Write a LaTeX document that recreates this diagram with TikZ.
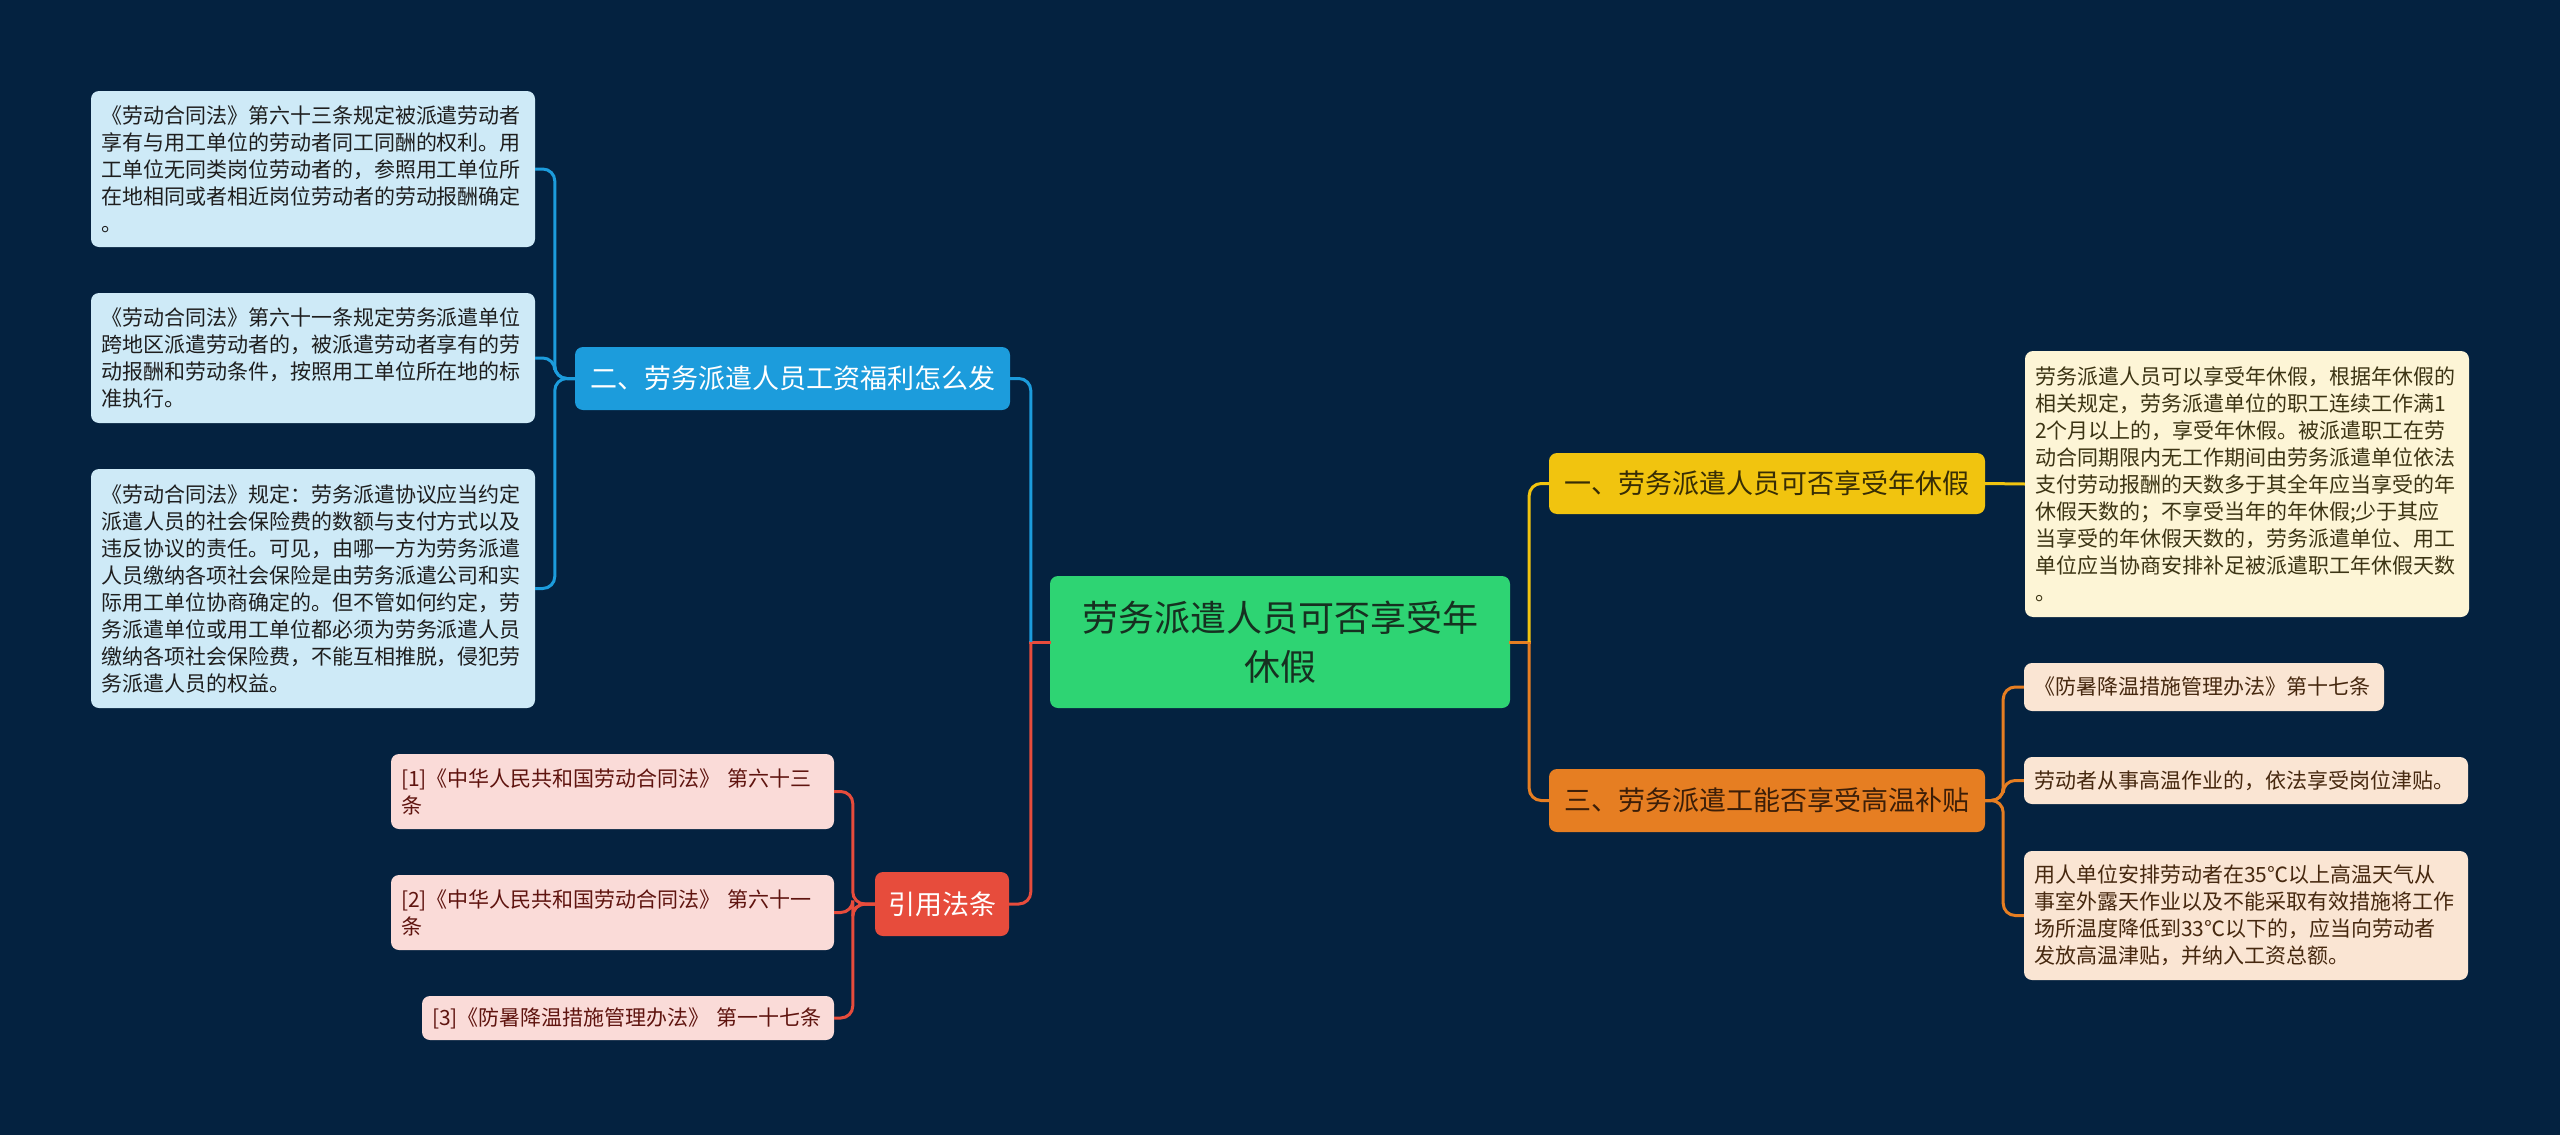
\documentclass[tikz,border=0pt]{standalone}
\usepackage{fontspec}
\setmainfont{Noto Sans CJK SC}
\definecolor{bg}{RGB}{4,34,64}
\definecolor{cgreen}{RGB}{46,212,115}
\definecolor{bblue}{RGB}{28,156,220}
\definecolor{lblue}{RGB}{206,234,247}
\definecolor{bred}{RGB}{231,76,60}
\definecolor{lpink}{RGB}{250,219,216}
\definecolor{byellow}{RGB}{241,196,15}
\definecolor{lyellow}{RGB}{253,245,214}
\definecolor{borange}{RGB}{230,126,34}
\definecolor{lpeach}{RGB}{250,229,211}
\definecolor{tdark}{RGB}{30,30,30}
\definecolor{tgreen}{RGB}{22,48,32}
\definecolor{tyellow}{RGB}{55,45,5}
\definecolor{torange}{RGB}{60,30,8}
\definecolor{tred}{RGB}{95,20,15}
\definecolor{tolive}{RGB}{60,52,20}
\definecolor{tbrown}{RGB}{70,40,15}
\tikzset{
  base/.style={rounded corners=8pt, inner ysep=0pt, anchor=center},
  leaf/.style={base, inner xsep=10pt, align=left, font=\fontsize{21}{27}\selectfont},
  branch/.style={base, inner xsep=0pt, align=center, font=\fontsize{27}{33}\selectfont},
  link/.style={line width=3pt, rounded corners=12pt},
  stub/.style={line width=3pt, line cap=rect},
}
\begin{document}
\begin{tikzpicture}[x=1pt,y=-1pt]
\fill[bg] (0,0) rectangle (2560,1135);
\useasboundingbox (0,0) rectangle (2560,1135);

% center
\node[base, fill=cgreen, text=tgreen, minimum width=460pt, minimum height=132pt, align=center,
  font=\fontsize{36}{49}\selectfont] (c) at (1280,642) {劳务派遣人员可否享受年\\休假};

% branches
\node[branch, fill=bblue, text=white, minimum width=435pt, minimum height=63pt] (b2) at (792.5,378.5) {二、劳务派遣人员工资福利怎么发};
\node[branch, fill=bred, text=white, minimum width=134pt, minimum height=64pt] (br) at (942,904) {引用法条};
\node[branch, fill=byellow, text=tyellow, minimum width=436pt, minimum height=61pt] (b1) at (1767,483.5) {一、劳务派遣人员可否享受年休假};
\node[branch, fill=borange, text=torange, minimum width=436pt, minimum height=63pt] (b3) at (1767,800.5) {三、劳务派遣工能否享受高温补贴};

% left blue leaves
\node[leaf, fill=lblue, text=tdark, text width=424pt, minimum height=156pt] (l1) at (313,169) {《劳动合同法》第六十三条规定被派遣劳动者\\
享有与用工单位的劳动者同工同酬的权利。用\\
工单位无同类岗位劳动者的，参照用工单位所\\
在地相同或者相近岗位劳动者的劳动报酬确定\\
。};
\node[leaf, fill=lblue, text=tdark, text width=424pt, minimum height=130pt] (l2) at (313,358) {《劳动合同法》第六十一条规定劳务派遣单位\\
跨地区派遣劳动者的，被派遣劳动者享有的劳\\
动报酬和劳动条件，按照用工单位所在地的标\\
准执行。};
\node[leaf, fill=lblue, text=tdark, text width=424pt, minimum height=239pt] (l3) at (313,588.5) {《劳动合同法》规定：劳务派遣协议应当约定\\
派遣人员的社会保险费的数额与支付方式以及\\
违反协议的责任。可见，由哪一方为劳务派遣\\
人员缴纳各项社会保险是由劳务派遣公司和实\\
际用工单位协商确定的。但不管如何约定，劳\\
务派遣单位或用工单位都必须为劳务派遣人员\\
缴纳各项社会保险费，不能互相推脱，侵犯劳\\
务派遣人员的权益。};

% red leaves
\node[leaf, fill=lpink, text=tred, text width=423pt, minimum height=75pt] (r1) at (612.5,791.5) {[1]《中华人民共和国劳动合同法》 第六十三\\
条};
\node[leaf, fill=lpink, text=tred, text width=423pt, minimum height=75pt] (r2) at (612.5,912.5) {[2]《中华人民共和国劳动合同法》 第六十一\\
条};
\node[leaf, fill=lpink, text=tred, text width=392pt, minimum height=44pt] (r3) at (628,1018) {[3]《防暑降温措施管理办法》 第一十七条};

% yellow leaf
\node[leaf, fill=lyellow, text=tolive, text width=424pt, minimum height=266pt] (y1) at (2247,484) {劳务派遣人员可以享受年休假，根据年休假的\\
相关规定，劳务派遣单位的职工连续工作满1\\
2个月以上的，享受年休假。被派遣职工在劳\\
动合同期限内无工作期间由劳务派遣单位依法\\
支付劳动报酬的天数多于其全年应当享受的年\\
休假天数的；不享受当年的年休假;少于其应\\
当享受的年休假天数的，劳务派遣单位、用工\\
单位应当协商安排补足被派遣职工年休假天数\\
。};

% orange leaves
\node[leaf, fill=lpeach, text=tbrown, text width=340pt, minimum height=48pt] (o1) at (2204,687) {《防暑降温措施管理办法》第十七条};
\node[leaf, fill=lpeach, text=tbrown, text width=424pt, minimum height=47pt] (o2) at (2246,780.5) {劳动者从事高温作业的，依法享受岗位津贴。};
\node[leaf, fill=lpeach, text=tbrown, text width=424pt, minimum height=129pt] (o3) at (2246,915.5) {用人单位安排劳动者在35℃以上高温天气从\\
事室外露天作业以及不能采取有效措施将工作\\
场所温度降低到33℃以下的，应当向劳动者\\
发放高温津贴，并纳入工资总额。};

% junction points beside the centre
\path (c.west) ++(-19,0) coordinate (jl);
\path (c.east) ++(19,0) coordinate (jr);

% connectors
\draw[stub, bred] (c.west) -- (jl);
\draw[link, bblue] (jl) |- (b2.east);
\draw[link, bred] (jl) |- (br.east);
\draw[stub, borange] (c.east) -- (jr);
\draw[link, byellow] (jr) |- (b1.west);
\draw[link, borange] (jr) |- (b3.west);

\draw[link, bblue] (b2.west) -- ++(-20,0) |- (l1.east);
\draw[link, bblue] (b2.west) -- ++(-20,0) |- (l2.east);
\draw[link, bblue] (b2.west) -- ++(-20,0) |- (l3.east);

\draw[link, bred] (br.west) -- ++(-22,0) |- (r1.east);
\draw[link, bred] (br.west) -- ++(-22,0) |- (r2.east);
\draw[link, bred] (br.west) -- ++(-22,0) |- (r3.east);

\draw[link, byellow] (b1.east) -- (y1.west);

\draw[link, borange] (b3.east) -- ++(18,0) |- (o1.west);
\draw[link, borange] (b3.east) -- ++(18,0) |- (o2.west);
\draw[link, borange] (b3.east) -- ++(18,0) |- (o3.west);
\end{tikzpicture}
\end{document}
